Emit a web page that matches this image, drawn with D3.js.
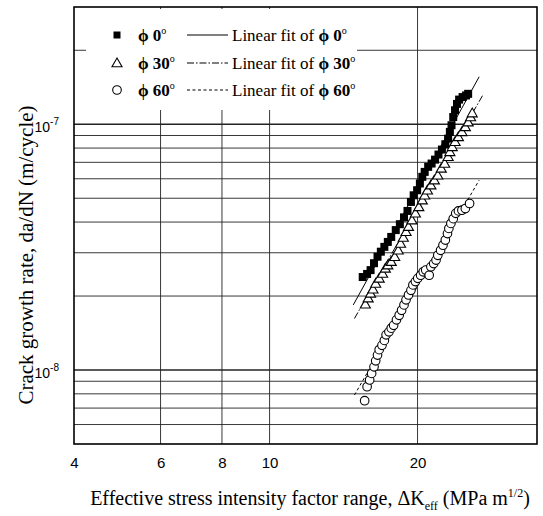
<!DOCTYPE html>
<html>
<head>
<meta charset="utf-8">
<script src="https://cdn.jsdelivr.net/npm/d3@7"></script>
<style>
  body { margin: 0; background: #fff; }
  svg { display: block; }
  .tick text { font-family: "Liberation Sans", Arial, sans-serif; }
</style>
</head>
<body>
<div id="chart"></div>
<script>
// axis ticks and gridlines
const xTicks = [4, 6, 8, 10, 20]
const xGrid = [6, 8, 10, 20]
const yTicks = [1e-8, 1e-7]
const yGrid = [6e-9, 7e-9, 8e-9, 9e-9, 1e-8, 2e-8, 3e-8, 4e-8, 5e-8, 6e-8, 7e-8, 8e-8, 9e-8, 1e-7, 2e-7]

// phi 0 deg (filled squares)
const phi0K = [15.47, 15.79, 16.05, 16.31, 16.58, 16.84, 17.12, 17.40, 17.68, 18.06, 18.41, 18.77,
  19.08, 19.39, 19.64, 19.96, 20.22, 20.45, 20.68, 21.02, 21.36, 21.71, 22.06, 22.42, 22.78,
  23.08, 23.27, 23.45, 23.64, 23.84, 24.06, 24.30, 24.70, 25.10, 25.35]
const phi0Rate = [2.39e-8, 2.46e-8, 2.55e-8, 2.72e-8, 2.89e-8, 3.03e-8, 3.17e-8, 3.32e-8, 3.48e-8,
  3.71e-8, 3.92e-8, 4.18e-8, 4.44e-8, 4.83e-8, 5.14e-8, 5.39e-8, 5.74e-8, 6.11e-8, 6.40e-8,
  6.71e-8, 6.92e-8, 7.18e-8, 7.53e-8, 7.89e-8, 8.29e-8, 8.74e-8, 9.31e-8, 9.91e-8, 1.07e-7,
  1.14e-7, 1.21e-7, 1.26e-7, 1.29e-7, 1.31e-7, 1.33e-7]

// phi 30 deg (open triangles)
const phi30K = [15.66, 15.87, 16.05, 16.23, 16.44, 16.71, 16.98, 17.20, 17.40, 17.68, 17.97, 18.27,
  18.47, 18.71, 18.95, 19.17, 19.48, 19.80, 20.12, 20.45, 20.68, 20.95, 21.29, 21.64, 21.99,
  22.35, 22.71, 23.08, 23.27, 23.53, 23.84, 24.22, 24.62, 25.02, 25.35, 25.64, 25.84]
const phi30Rate = [1.85e-8, 1.96e-8, 2.05e-8, 2.13e-8, 2.25e-8, 2.36e-8, 2.47e-8, 2.59e-8, 2.67e-8,
  2.76e-8, 2.89e-8, 3.07e-8, 3.27e-8, 3.46e-8, 3.65e-8, 3.83e-8, 4.07e-8, 4.34e-8, 4.61e-8,
  4.91e-8, 5.14e-8, 5.39e-8, 5.65e-8, 5.92e-8, 6.20e-8, 6.61e-8, 6.92e-8, 7.37e-8, 7.72e-8,
  8.09e-8, 8.48e-8, 8.88e-8, 9.31e-8, 9.75e-8, 1.02e-7, 1.07e-7, 1.11e-7]

// phi 60 deg (open circles)
const phi60K = [15.61, 15.79, 15.98, 16.13, 16.31, 16.44, 16.58, 16.71, 16.93, 17.12, 17.26, 17.49,
  17.68, 17.88, 18.12, 18.35, 18.56, 18.77, 18.95, 19.17, 19.39, 19.57, 19.80, 20.02, 20.29,
  20.54, 20.78, 21.12, 21.29, 21.57, 21.81, 21.99, 22.28, 22.53, 22.78, 23.01, 23.16, 23.38,
  23.64, 23.92, 24.22, 24.62, 25.02, 25.52]
const phi60Rate = [7.50e-9, 8.55e-9, 9.11e-9, 9.69e-9, 1.03e-8, 1.09e-8, 1.15e-8, 1.21e-8, 1.26e-8,
  1.32e-8, 1.39e-8, 1.43e-8, 1.48e-8, 1.52e-8, 1.60e-8, 1.67e-8, 1.75e-8, 1.84e-8, 1.93e-8,
  2.02e-8, 2.11e-8, 2.22e-8, 2.29e-8, 2.36e-8, 2.43e-8, 2.51e-8, 2.55e-8, 2.43e-8, 2.63e-8,
  2.71e-8, 2.80e-8, 2.93e-8, 3.07e-8, 3.22e-8, 3.38e-8, 3.59e-8, 3.77e-8, 3.95e-8, 4.13e-8,
  4.34e-8, 4.44e-8, 4.47e-8, 4.54e-8, 4.76e-8]

// linear fit end points
const fit0K = [14.80, 26.69], fit0Rate = [1.84e-8, 1.56e-7]
const fit30K = [14.88, 27.13], fit30Rate = [1.62e-8, 1.31e-7]
const fit60K = [14.88, 26.69], fit60Rate = [7.91e-9, 5.92e-8]

const legendAngles = ["0", "30", "60"]

const width = 543
const height = 516
const margin = {top: 7, right: 6, bottom: 72, left: 74}

const svg = d3.select("#chart").append("svg")
  .attr("width", width)
  .attr("height", height)

const x = d3.scaleLog().domain([4, 35]).range([margin.left, width - margin.right])
const y = d3.scaleLog().domain([5e-9, 3e-7]).range([height - margin.bottom, margin.top])

const serif = "'Liberation Serif', 'Times New Roman', serif"

// horizontal gridlines
svg.append("g")
  .selectAll("line")
  .data(yGrid)
  .join("line")
  .attr("x1", x.range()[0]).attr("x2", x.range()[1])
  .attr("y1", d => y(d)).attr("y2", d => y(d))
  .attr("stroke", "#222")
  .attr("stroke-width", d => yTicks.includes(d) ? 1.3 : 0.9)

// vertical gridlines
svg.append("g")
  .selectAll("line")
  .data(xGrid)
  .join("line")
  .attr("x1", d => x(d)).attr("x2", d => x(d))
  .attr("y1", y.range()[0]).attr("y2", y.range()[1])
  .attr("stroke", "#222")
  .attr("stroke-width", 0.9)

// fit lines
const fits = [
  {k: fit0K, r: fit0Rate, dash: null},
  {k: fit30K, r: fit30Rate, dash: "7,2,1.5,2"},
  {k: fit60K, r: fit60Rate, dash: "3,2.5"}
]
const line = d3.line().x(d => x(d[0])).y(d => y(d[1]))
svg.append("g")
  .selectAll("path")
  .data(fits)
  .join("path")
  .attr("d", d => line(d3.zip(d.k, d.r)))
  .attr("fill", "none")
  .attr("stroke", "#000")
  .attr("stroke-width", 1)
  .attr("stroke-dasharray", d => d.dash)

// markers
const sq = 8
svg.append("g")
  .selectAll("rect")
  .data(d3.zip(phi0K, phi0Rate))
  .join("rect")
  .attr("x", d => x(d[0]) - sq / 2)
  .attr("y", d => y(d[1]) - sq / 2)
  .attr("width", sq).attr("height", sq)
  .attr("fill", "#000")

const tri = d3.symbol().type(d3.symbolTriangle).size(44)
svg.append("g")
  .selectAll("path")
  .data(d3.zip(phi30K, phi30Rate))
  .join("path")
  .attr("d", tri)
  .attr("transform", d => `translate(${x(d[0])},${y(d[1]) + 0.8})`)
  .attr("fill", "#fff")
  .attr("stroke", "#000")
  .attr("stroke-width", 1.1)

svg.append("g")
  .selectAll("circle")
  .data(d3.zip(phi60K, phi60Rate))
  .join("circle")
  .attr("cx", d => x(d[0]))
  .attr("cy", d => y(d[1]))
  .attr("r", 4.3)
  .attr("fill", "#fff")
  .attr("stroke", "#000")
  .attr("stroke-width", 1.1)

// legend (white box hides the gridlines behind it)
const legend = svg.append("g")
legend.append("rect")
  .attr("x", 86).attr("y", 9)
  .attr("width", 271).attr("height", 101)
  .attr("fill", "#fff")

const rowY = [35, 63, 90]
legendAngles.forEach((a, i) => {
  const cy = rowY[i]
  if (i === 0) {
    legend.append("rect").attr("x", 117 - 3.5).attr("y", cy - 3.5)
      .attr("width", 7).attr("height", 7).attr("fill", "#000")
  } else if (i === 1) {
    legend.append("path").attr("d", tri).attr("transform", `translate(117,${cy + 0.8})`)
      .attr("fill", "#fff").attr("stroke", "#000").attr("stroke-width", 1.1)
  } else {
    legend.append("circle").attr("cx", 117).attr("cy", cy).attr("r", 4.3)
      .attr("fill", "#fff").attr("stroke", "#000").attr("stroke-width", 1.1)
  }
  const lab = legend.append("text")
    .attr("x", 138).attr("y", cy + 6)
    .attr("font-family", serif).attr("font-size", 17).attr("font-weight", "bold")
  lab.append("tspan").text("\u03d5 " + a)
  lab.append("tspan").attr("dy", -7).attr("font-size", 10).attr("font-weight", "normal").text("o")

  legend.append("line")
    .attr("x1", 187).attr("x2", 228)
    .attr("y1", cy).attr("y2", cy)
    .attr("stroke", "#000").attr("stroke-width", 1)
    .attr("stroke-dasharray", fits[i].dash)

  const t = legend.append("text")
    .attr("x", 232).attr("y", cy + 6)
    .attr("font-family", serif).attr("font-size", 17)
  t.append("tspan").text("Linear fit of ")
  t.append("tspan").attr("font-weight", "bold").text("\u03d5 " + a)
  t.append("tspan").attr("dy", -7).attr("font-size", 10).text("o")
})

// frame
svg.append("rect")
  .attr("x", x.range()[0]).attr("y", y.range()[1])
  .attr("width", x.range()[1] - x.range()[0])
  .attr("height", y.range()[0] - y.range()[1])
  .attr("fill", "none")
  .attr("stroke", "#000")
  .attr("stroke-width", 1.6)

// x axis labels
const xAxis = svg.append("g")
  .attr("transform", `translate(0,${y.range()[0]})`)
  .call(d3.axisBottom(x).tickValues(xTicks).tickFormat(d3.format("d")).tickSize(0).tickPadding(13))
xAxis.select(".domain").remove()
xAxis.selectAll("text").attr("font-size", 15).attr("fill", "#000")

// y axis labels as 10 with superscript exponent
const yAxis = svg.append("g")
  .attr("transform", `translate(${x.range()[0]},0)`)
  .call(d3.axisLeft(y).tickValues(yTicks).tickSize(0).tickPadding(15).tickFormat(""))
yAxis.select(".domain").remove()
yAxis.selectAll("text")
  .attr("font-size", 14).attr("fill", "#000").attr("dy", "0.55em")
  .each(function (d) {
    const el = d3.select(this)
    el.append("tspan").text("10")
    el.append("tspan").attr("dy", -7).attr("font-size", 10).text(Math.round(Math.log10(d)))
  })

// axis titles
const xt = svg.append("text")
  .attr("x", 310).attr("y", 505)
  .attr("text-anchor", "middle")
  .attr("font-family", serif).attr("font-size", 20)
xt.append("tspan").text("Effective stress intensity factor range, \u0394K")
xt.append("tspan").attr("dy", 5).attr("font-size", 12).text("eff")
xt.append("tspan").attr("dy", -5).text(" (MPa m")
xt.append("tspan").attr("dy", -8).attr("font-size", 12).text("1/2")
xt.append("tspan").attr("dy", 8).text(")")

svg.append("text")
  .attr("transform", "translate(33,255) rotate(-90)")
  .attr("text-anchor", "middle")
  .attr("font-family", serif).attr("font-size", 21)
  .text("Crack growth rate, da/dN (m/cycle)")
</script>
</body>
</html>
